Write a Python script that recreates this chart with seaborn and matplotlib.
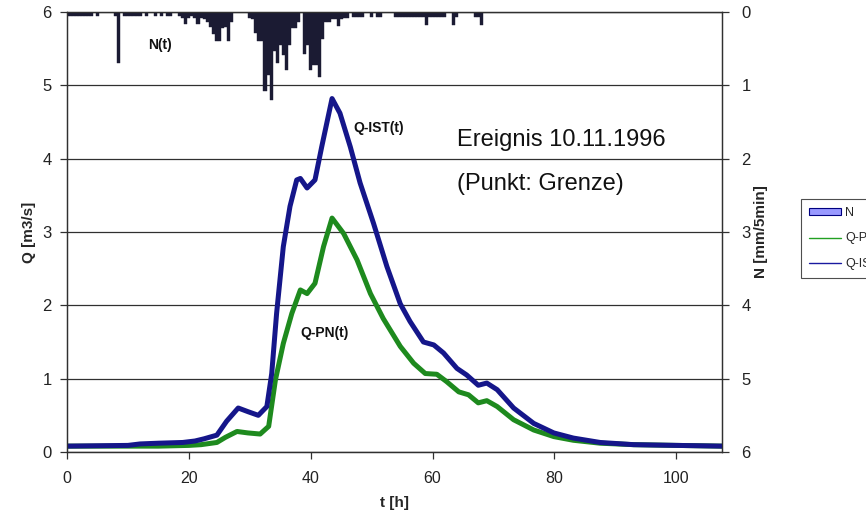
import matplotlib
matplotlib.use("Agg")
import matplotlib.pyplot as plt
import seaborn as sns
import pandas as pd
from matplotlib.patches import Patch
from matplotlib.lines import Line2D

# ---- data ----
t_ist = [0, 5, 10, 12, 15, 19, 21, 22.5, 24.6, 26.2, 28.1, 29.7, 31.4, 32.8, 33.6, 34.4,
         35.5, 36.6, 37.7, 38.3, 39.4, 40.7, 41.8, 43.5, 44.8, 46.5, 48.1, 50.3, 52.5,
         54.7, 56.3, 58.5, 60.2, 61.8, 64.0, 65.6, 67.5, 68.9, 70.6, 73.3, 76.6, 79.9,
         83.1, 87.5, 93.0, 100, 107.5]
q_ist = [0.08, 0.085, 0.09, 0.11, 0.12, 0.13, 0.15, 0.18, 0.23, 0.42, 0.60, 0.55, 0.50,
         0.62, 1.07, 1.89, 2.80, 3.35, 3.71, 3.73, 3.60, 3.71, 4.16, 4.82, 4.62, 4.16,
         3.67, 3.12, 2.53, 2.02, 1.78, 1.50, 1.46, 1.35, 1.14, 1.05, 0.91, 0.94, 0.85,
         0.60, 0.39, 0.26, 0.19, 0.13, 0.10, 0.09, 0.08]

t_pn = [0, 10, 15, 20, 22, 24.6, 26.0, 27.9, 29.7, 31.7, 33.1, 34.2, 35.5, 36.9, 38.3,
        39.4, 40.7, 42.1, 43.5, 45.4, 47.6, 49.8, 51.9, 54.7, 56.9, 58.8, 60.7, 62.3,
        64.3, 65.9, 67.5, 68.9, 70.6, 73.3, 76.6, 79.9, 83.1, 87.5, 93.0, 100, 107.5]
q_pn = [0.08, 0.08, 0.08, 0.09, 0.10, 0.13, 0.20, 0.28, 0.26, 0.245, 0.35, 0.98, 1.48,
        1.89, 2.21, 2.16, 2.30, 2.80, 3.19, 2.98, 2.62, 2.16, 1.82, 1.44, 1.21, 1.07,
        1.06, 0.96, 0.82, 0.78, 0.67, 0.70, 0.62, 0.44, 0.30, 0.21, 0.16, 0.12, 0.10,
        0.09, 0.08]

rain_t = [0.0, 0.5, 1.0, 1.5, 2.0, 2.5, 3.0, 3.5, 4.0, 5.0, 8.0, 8.5, 9.5, 10.0, 10.5,
          11.0, 11.5, 12.0, 13.0, 14.5, 15.5, 16.5, 17.0, 18.5, 19.0, 19.5, 20.0, 20.5,
          21.0, 21.5, 22.0, 22.5, 23.0, 23.5, 24.0, 24.5, 25.0, 25.5, 26.0, 26.5, 27.0,
          30.0, 30.5, 31.0, 31.5, 32.0, 32.5, 33.0, 33.5, 34.0, 34.5, 35.0, 35.5, 36.0,
          36.5, 37.0, 37.5, 38.0, 39.0, 39.5, 40.0, 40.5, 41.0, 41.5, 42.0, 42.5, 43.0,
          43.5, 44.0, 44.5, 45.0, 45.5, 46.0, 47.0, 47.5, 48.0, 48.5, 50.0, 51.0, 51.5,
          54.0, 54.5, 55.0, 55.5, 56.0, 56.5, 57.0, 57.5, 58.0, 58.5, 59.0, 59.5, 60.0,
          60.5, 61.0, 61.5, 62.0, 63.5, 64.0, 67.0, 67.5, 68.0]
rain_n = [0.05, 0.05, 0.05, 0.05, 0.05, 0.05, 0.05, 0.05, 0.05, 0.05, 0.05, 0.70, 0.05,
          0.05, 0.05, 0.05, 0.05, 0.05, 0.05, 0.05, 0.06, 0.05, 0.06, 0.06, 0.08, 0.17,
          0.08, 0.06, 0.08, 0.17, 0.08, 0.10, 0.14, 0.20, 0.30, 0.40, 0.40, 0.22, 0.20,
          0.40, 0.14, 0.08, 0.10, 0.28, 0.40, 0.40, 1.08, 0.86, 1.20, 0.53, 0.69, 0.45,
          0.58, 0.79, 0.45, 0.22, 0.22, 0.13, 0.57, 0.45, 0.79, 0.72, 0.72, 0.88, 0.37,
          0.14, 0.14, 0.10, 0.10, 0.19, 0.10, 0.08, 0.08, 0.07, 0.07, 0.07, 0.07, 0.07,
          0.07, 0.07, 0.07, 0.07, 0.07, 0.07, 0.07, 0.07, 0.07, 0.07, 0.07, 0.07, 0.18,
          0.07, 0.07, 0.07, 0.07, 0.07, 0.07, 0.18, 0.07, 0.07, 0.07, 0.18]

x_ticks = [0, 20, 40, 60, 80, 100]
q_ticks = [0, 1, 2, 3, 4, 5, 6]
n_ticks = [0, 1, 2, 3, 4, 5, 6]

BLUE = "#15168a"
GREEN = "#1e8a1e"
BAR = "#1b1b33"
GRID = "#303030"

sns.set_theme(style="ticks")
plt.rcParams['font.family'] = ['Liberation Sans', 'DejaVu Sans']

fig = plt.figure(figsize=(8.66, 5.15), dpi=100)
ax = fig.add_axes([67 / 866, 63 / 515, 655 / 866, 440 / 515])

df_pn = pd.DataFrame({"t": t_pn, "Q": q_pn})
df_ist = pd.DataFrame({"t": t_ist, "Q": q_ist})
sns.lineplot(data=df_pn, x="t", y="Q", ax=ax, color=GREEN, lw=3.6,
             solid_joinstyle="round", solid_capstyle="round", zorder=3)
sns.lineplot(data=df_ist, x="t", y="Q", ax=ax, color=BLUE, lw=3.6,
             solid_joinstyle="round", solid_capstyle="round", zorder=4)

ax.set_xlim(0, 107.5)
ax.set_ylim(0, 6)
ax.set_xticks(x_ticks)
ax.set_yticks(q_ticks)
ax.yaxis.grid(True, color=GRID, lw=0.9)
ax.xaxis.grid(False)
ax.set_axisbelow(True)
for s in ax.spines.values():
    s.set_color(GRID)
    s.set_linewidth(0.9)
ax.tick_params(axis='x', direction='out', length=5, width=0.9, color=GRID,
               labelsize=11.5, labelcolor="#222222", pad=9)
ax.tick_params(axis='y', direction='out', length=5, width=0.9, color=GRID,
               labelsize=12, labelcolor="#222222", pad=6)

ax.set_xlabel("t [h]", fontsize=11, fontweight="bold", va="center")
ax.xaxis.set_label_coords(0.5, (452 - 503) / 440)
ax.set_ylabel("Q [m3/s]", fontsize=11, fontweight="bold", va="center")
ax.yaxis.set_label_coords((29 - 67) / 655, 0.5)

ax2 = ax.twinx()
ax2.bar(rain_t, rain_n, width=0.5, color=BAR, edgecolor=BAR, linewidth=0.3, zorder=2)
ax2.set_ylim(6, 0)
ax2.set_yticks(n_ticks)
ax2.grid(False)
for s in ax2.spines.values():
    s.set_color(GRID)
    s.set_linewidth(0.9)
ax2.tick_params(axis='y', direction='out', length=5, width=0.9, color=GRID,
                labelsize=12, labelcolor="#222222", pad=9)
ax2.set_ylabel("N [mm/5min]", fontsize=11, fontweight="bold", va="center")
ax2.yaxis.set_label_coords((761 - 67) / 655, 0.5)

ax.text(13.3, 5.55, "N(t)", fontsize=10, fontweight="bold", va="center", color="#111111")
ax.text(47.0, 4.42, "Q-IST(t)", fontsize=10, fontweight="bold", va="center", color="#111111")
ax.text(38.3, 1.62, "Q-PN(t)", fontsize=10, fontweight="bold", va="center", color="#111111")
ax.text(64.0, 4.25, "Ereignis 10.11.1996", fontsize=17, va="center", color="#111111")
ax.text(64.0, 3.65, "(Punkt: Grenze)", fontsize=17, va="center", color="#111111")

handles = [Patch(facecolor="#9999ff", edgecolor="#000080", lw=0.8),
           Line2D([], [], color="#22a022", lw=1),
           Line2D([], [], color="#1a1aa0", lw=1)]
leg = fig.legend(handles, ["N", "Q-PN", "Q-IST"], loc="upper left",
                 bbox_to_anchor=(795 / 866, 1 - 193 / 515), frameon=True,
                 fancybox=False, edgecolor="#222222", fontsize=9,
                 handlelength=2.6, handleheight=0.5, labelspacing=1.1,
                 borderpad=0.6, handletextpad=0.3)
leg.get_frame().set_linewidth(0.8)

fig.savefig("out.png", dpi=100)
